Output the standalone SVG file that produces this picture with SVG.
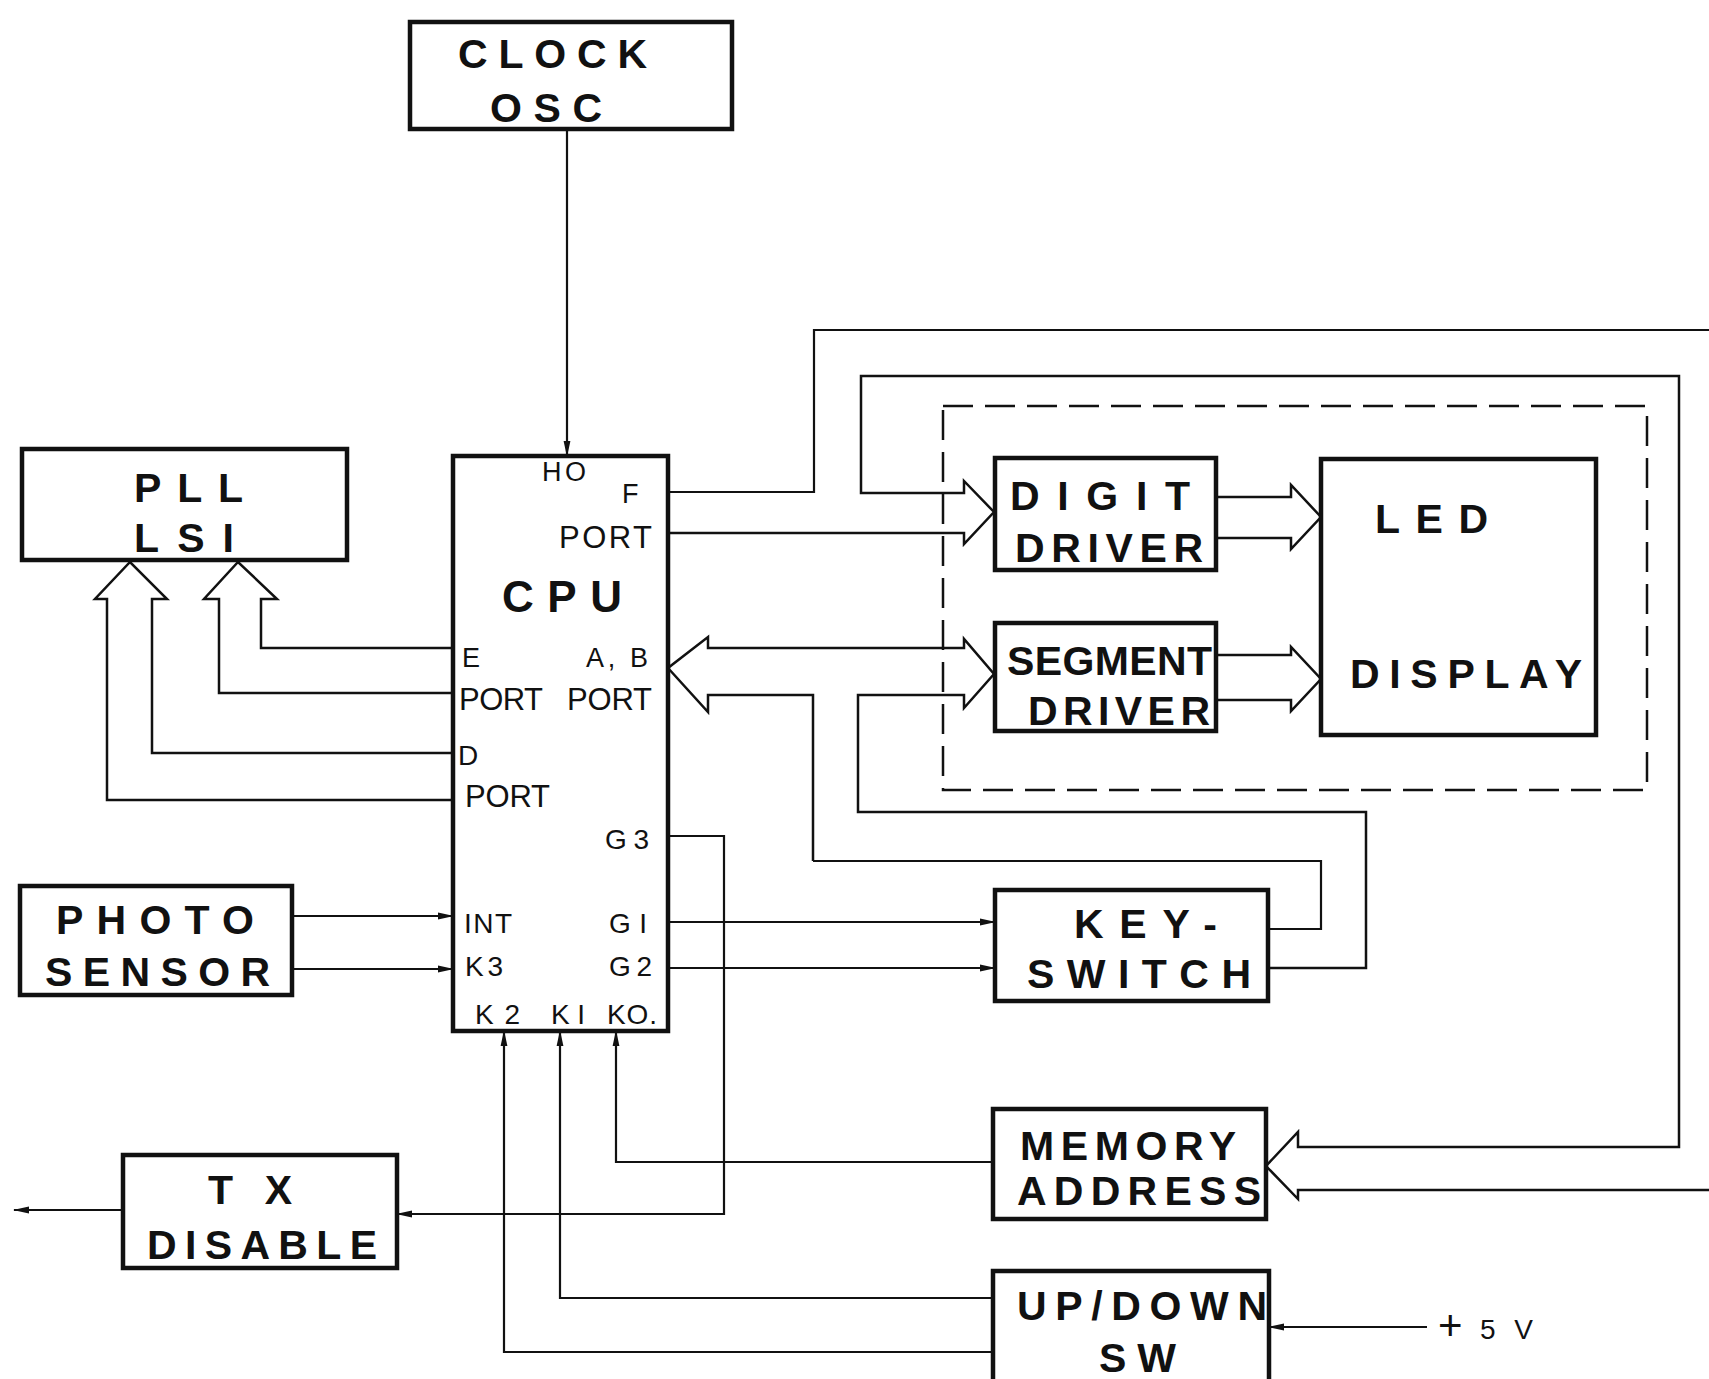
<svg xmlns="http://www.w3.org/2000/svg" width="1709" height="1379" viewBox="0 0 1709 1379">
<defs>
<marker id="ah" viewBox="0 0 16 8" refX="15" refY="4" markerWidth="16" markerHeight="8" markerUnits="userSpaceOnUse" orient="auto">
<path d="M0,0.6 L16,4 L0,7.4 Z" fill="#111"/>
</marker>
<style>
.box{fill:#fff;stroke:#111;stroke-width:4.5}
.w{fill:none;stroke:#111;stroke-width:2.2}
.bus{fill:none;stroke:#111;stroke-width:2.5;stroke-linejoin:miter}
.dash{fill:none;stroke:#111;stroke-width:2.5;stroke-dasharray:30 12}
.big{font-family:"Liberation Sans",Arial,sans-serif;font-weight:bold;font-size:41px;fill:#111}
.pin{font-family:"Liberation Sans",Arial,sans-serif;font-size:28px;fill:#111}
.port{font-family:"Liberation Sans",Arial,sans-serif;font-size:31px;fill:#111}
.sm{font-family:"Liberation Sans",Arial,sans-serif;font-size:27px;fill:#111}
.cpu{font-family:"Liberation Sans",Arial,sans-serif;font-weight:bold;font-size:44px;fill:#111}
.plus{font-family:"Liberation Sans",Arial,sans-serif;font-size:42px;fill:#111}
</style>
</defs>
<rect width="1709" height="1379" fill="#fff"/>

<g id="connectors">
<path class="w" d="M567,129 V456" marker-end="url(#ah)"/>
<path class="bus" d="M453,648 H261 V599 H277 L238,562 L204,599 H219 V693 H453"/>
<path class="bus" d="M453,753 H152 V599 H167 L130,562 L95,599 H107 V800 H453"/>
<path class="w" d="M668,492 H814 V330 H1709"/>
<path class="bus" d="M668,533 H964 V544 L994,512 L964,481 V493 H861 V376 H1679 V1147 H1298 V1132 L1266,1166 L1298,1199 V1190 H1709"/>
<path class="bus" d="M813,861 V695 H708 V712 L668,668 L708,637 V648 H964 V639 L994,674 L964,708 V695 H858 V812 H1366 V968 H1268"/>
<path class="w" d="M813,861 H1321 V929 H1268"/>
<path class="bus" d="M1216,497 H1291 V485 L1321,517 L1291,549 V538 H1216"/>
<path class="bus" d="M1216,655 H1291 V647 L1321,679 L1291,711 V700 H1216"/>
<path class="w" d="M292,916 H453" marker-end="url(#ah)"/>
<path class="w" d="M292,969 H453" marker-end="url(#ah)"/>
<path class="w" d="M668,922 H995" marker-end="url(#ah)"/>
<path class="w" d="M668,968 H995" marker-end="url(#ah)"/>
<path class="w" d="M668,836 H724 V1214 H397" marker-end="url(#ah)"/>
<path class="w" d="M123,1210 H14" marker-end="url(#ah)"/>
<path class="w" d="M993,1162 H616 V1031" marker-end="url(#ah)"/>
<path class="w" d="M993,1298 H560 V1031" marker-end="url(#ah)"/>
<path class="w" d="M993,1352 H504 V1031" marker-end="url(#ah)"/>
<path class="w" d="M1427,1327 H1269" marker-end="url(#ah)"/>
</g>

<g id="display-group">
<rect class="dash" x="943" y="406" width="704" height="384"/>
</g>

<g id="clock-osc">
<rect class="box" x="410" y="22" width="322" height="107"/>
<text class="big" x="458" y="68" textLength="189" lengthAdjust="spacing">CLOCK</text>
<text class="big" x="490" y="122" textLength="112" lengthAdjust="spacing">OSC</text>
</g>

<g id="pll-lsi">
<rect class="box" x="22" y="449" width="325" height="111"/>
<text class="big" x="134" y="502" textLength="109" lengthAdjust="spacing">PLL</text>
<text class="big" x="134" y="552" textLength="100" lengthAdjust="spacing">LSI</text>
</g>

<g id="cpu">
<rect class="box" x="453" y="456" width="215" height="575"/>
<text class="sm" x="542" y="481" textLength="44" lengthAdjust="spacing">HO</text>
<text class="sm" x="622" y="503">F</text>
<text class="port" x="559" y="548" textLength="93" lengthAdjust="spacing">PORT</text>
<text class="cpu" x="502" y="612" textLength="120" lengthAdjust="spacing">CPU</text>
<text class="sm" x="462" y="667">E</text>
<text class="sm" x="586" y="667" textLength="62" lengthAdjust="spacing">A, B</text>
<text class="port" x="459" y="710" textLength="84" lengthAdjust="spacing">PORT</text>
<text class="port" x="567" y="710" textLength="85" lengthAdjust="spacing">PORT</text>
<text class="pin" x="458" y="765">D</text>
<text class="port" x="465" y="807" textLength="85" lengthAdjust="spacing">PORT</text>
<text class="pin" x="605" y="849" textLength="44" lengthAdjust="spacing">G3</text>
<text class="pin" x="464" y="933" textLength="48" lengthAdjust="spacing">INT</text>
<text class="pin" x="609" y="933" textLength="38" lengthAdjust="spacing">GI</text>
<text class="pin" x="465" y="976" textLength="38" lengthAdjust="spacing">K3</text>
<text class="pin" x="609" y="976" textLength="43" lengthAdjust="spacing">G2</text>
<text class="pin" x="475" y="1024" textLength="45" lengthAdjust="spacing">K2</text>
<text class="pin" x="551" y="1024" textLength="34" lengthAdjust="spacing">KI</text>
<text class="pin" x="607" y="1024" textLength="50" lengthAdjust="spacing">KO.</text>
</g>

<g id="digit-driver">
<rect class="box" x="995" y="458" width="221" height="112"/>
<text class="big" x="1010" y="510" textLength="180" lengthAdjust="spacing">DIGIT</text>
<text class="big" x="1015" y="562" textLength="188" lengthAdjust="spacing">DRIVER</text>
</g>

<g id="segment-driver">
<rect class="box" x="995" y="623" width="221" height="108"/>
<text class="big" x="1007" y="675" textLength="205" lengthAdjust="spacing">SEGMENT</text>
<text class="big" x="1028" y="725" textLength="182" lengthAdjust="spacing">DRIVER</text>
</g>

<g id="led-display">
<rect class="box" x="1321" y="459" width="275" height="276"/>
<text class="big" x="1375" y="533" textLength="113" lengthAdjust="spacing">LED</text>
<text class="big" x="1350" y="688" textLength="232" lengthAdjust="spacing">DISPLAY</text>
</g>

<g id="photo-sensor">
<rect class="box" x="20" y="886" width="272" height="109"/>
<text class="big" x="56" y="934" textLength="198" lengthAdjust="spacing">PHOTO</text>
<text class="big" x="45" y="986" textLength="225" lengthAdjust="spacing">SENSOR</text>
</g>

<g id="key-switch">
<rect class="box" x="995" y="890" width="273" height="111"/>
<text class="big" x="1074" y="938" textLength="143" lengthAdjust="spacing">KEY-</text>
<text class="big" x="1027" y="988" textLength="224" lengthAdjust="spacing">SWITCH</text>
</g>

<g id="memory-address">
<rect class="box" x="993" y="1109" width="273" height="110"/>
<text class="big" x="1020" y="1160" textLength="216" lengthAdjust="spacing">MEMORY</text>
<text class="big" x="1017" y="1205" textLength="244" lengthAdjust="spacing">ADDRESS</text>
</g>

<g id="tx-disable">
<rect class="box" x="123" y="1155" width="274" height="113"/>
<text class="big" x="208" y="1204" textLength="84" lengthAdjust="spacing">TX</text>
<text class="big" x="147" y="1259" textLength="230" lengthAdjust="spacing">DISABLE</text>
</g>

<g id="up-down-sw">
<rect class="box" x="993" y="1271" width="276" height="130"/>
<text class="big" x="1017" y="1320" textLength="250" lengthAdjust="spacing">UP/DOWN</text>
<text class="big" x="1099" y="1372" textLength="77" lengthAdjust="spacing">SW</text>
</g>

<g id="supply">
<text class="pin" x="1438" y="1340"><tspan class="plus">+</tspan><tspan x="1480" y="1339" textLength="53" lengthAdjust="spacing">5V</tspan></text>
</g>
</svg>
